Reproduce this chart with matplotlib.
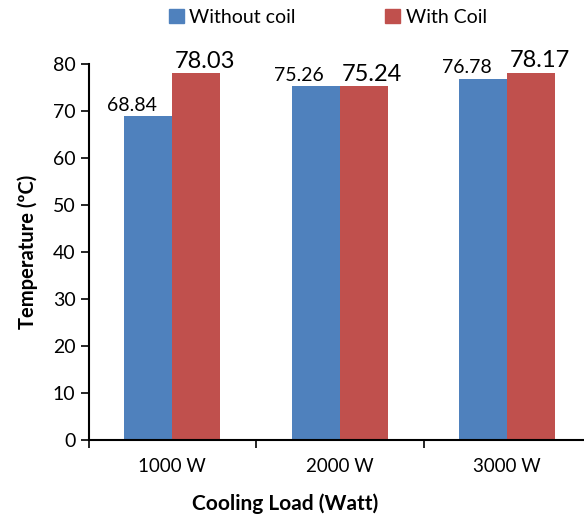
import matplotlib
matplotlib.use("Agg")
import matplotlib.pyplot as plt
from matplotlib.patches import Patch
import numpy as np

categories = ["1000 W", "2000 W", "3000 W"]
without_coil = [68.84, 75.26, 76.78]
with_coil = [78.03, 75.24, 78.17]
series_names = ["Without coil", "With Coil"]
yticks = [0, 10, 20, 30, 40, 50, 60, 70, 80]

plt.rcParams['font.family'] = ['Lato', 'DejaVu Sans']

W, H = 584, 521
fig = plt.figure(figsize=(W / 100, H / 100), dpi=100)
ax = fig.add_axes([88.6 / W, 1 - 440 / H, (591 - 88.6) / W, (440 - 64) / H])

blue = "#4F81BD"
red = "#C0504D"
x = np.arange(len(categories))
bw = 0.287
b1 = ax.bar(x - bw / 2, without_coil, bw, color=blue)
b2 = ax.bar(x + bw / 2, with_coil, bw, color=red)

for rect, v in zip(b1, without_coil):
    ax.annotate(f"{v:.2f}", (rect.get_x() + rect.get_width() / 2, v),
                xytext=(-12, 2), textcoords="offset points",
                ha="center", va="bottom", fontsize=14)
for rect, v in zip(b2, with_coil):
    ax.annotate(f"{v:.2f}", (rect.get_x() + rect.get_width() / 2, v),
                xytext=(6, 1), textcoords="offset points",
                ha="center", va="bottom", fontsize=17)

ax.set_xlim(-0.5, 2.5)
ax.set_ylim(0, 80)
ax.set_yticks(yticks)
ax.set_xticks(x)
ax.set_xticklabels(categories, fontsize=13.5)
ax.tick_params(axis="x", length=0, pad=13)
ax.set_xticks([-0.5, 0.5, 1.5, 2.5], minor=True)
ax.tick_params(axis="x", which="minor", length=6, width=1.2, direction="out")
ax.tick_params(axis="y", length=6, width=1.2, direction="out", labelsize=14)
for s in ["top", "right"]:
    ax.spines[s].set_visible(False)
for s in ["left", "bottom"]:
    ax.spines[s].set_linewidth(1.5)

ax.set_ylabel("Temperature (ºC)", fontsize=14.5, fontweight="bold")
ax.yaxis.set_label_coords(-(88.6 - 38) / (591 - 88.6), 0.5)
ax.set_xlabel("Cooling Load (Watt)", fontsize=15, fontweight="bold")
ax.xaxis.set_label_coords((285 - 88.6) / (591 - 88.6), -(493 - 440) / (440 - 64))

handles = [Patch(color=blue), Patch(color=red)]
fig.legend(handles, series_names, loc="center", bbox_to_anchor=(328 / W, 1 - 17 / H),
           ncol=2, frameon=False, fontsize=14, handlelength=0.75, handleheight=0.75,
           handletextpad=0.3, columnspacing=4.6)

fig.savefig("out.png", dpi=100)
